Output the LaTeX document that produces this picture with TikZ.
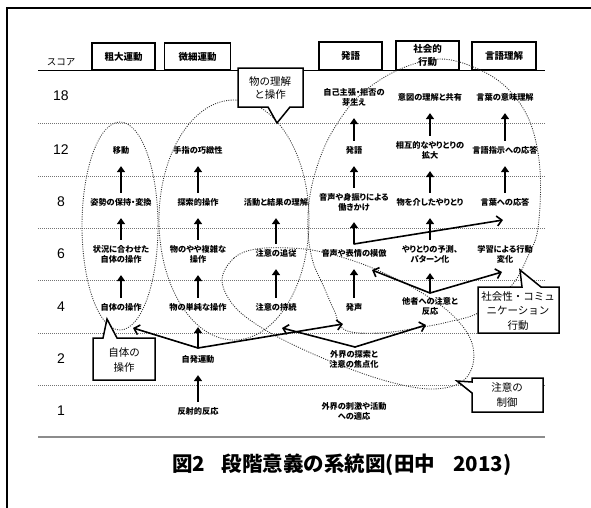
\documentclass[tikz,border=0pt]{standalone}
\usepackage{fontspec}
\usetikzlibrary{arrows.meta,calc}
\newfontfamily\jp{Noto Sans CJK JP}[RawFeature={+palt}]
\newfontfamily\jpf{Noto Sans CJK JP}
\newfontfamily\numf{Liberation Sans}
\tikzset{
 lbl/.style={font=\jp\bfseries\fontsize{8.2}{10}\selectfont, align=center, inner sep=1pt},
 hdr/.style={draw, line width=1.4pt, font=\jpf\bfseries\fontsize{9.5}{13}\selectfont, align=center, inner sep=0pt},
 cotxt/.style={font=\jpf\fontsize{10.5}{14.5}\selectfont, align=center, inner sep=0pt},
 cobox/.style={draw, fill=white, line width=1.5pt, line join=miter},
 scorelbl/.style={font=\numf\fontsize{14}{16}\selectfont, inner sep=0pt},
 ovl/.style={draw=black!80, line width=0.85pt, dash pattern=on 1pt off 1.3pt},
 sepline/.style={draw=black!55, line width=0.6pt, dash pattern=on 1pt off 1pt},
 arr/.style={line width=1.7pt, -{Triangle[length=6pt,width=8pt]}, shorten <=4pt, shorten >=11pt},
 barb/.style={line width=1.6pt, line cap=round, -{Straight Barb[length=5pt,width=10pt]}},
}
\begin{document}
\begin{tikzpicture}[x=1pt,y=-1pt]
\useasboundingbox (0,0) rectangle (591,507);
\clip (0,0) rectangle (591,507);
\fill[white] (0,0) rectangle (591,507);
\draw[line width=1.2pt] (7,520) -- (7,8) -- (600,8);

% lines
\draw[line width=0.9pt] (38,70) -- (545,70);
\foreach \yy in {123,176,228,280,333,385} \draw[sepline] (38,\yy) -- (545,\yy);
\draw[line width=2pt, black!45] (38,437) -- (545,437);

% scores
\node[font=\jpf\fontsize{9.5}{11}\selectfont, inner sep=0pt] (sc) at (61,62) {スコア};
\node[scorelbl] (s18) at (61,96) {18};
\node[scorelbl] (s12) at (61,150) {12};
\node[scorelbl] (s8) at (61,202) {8};
\node[scorelbl] (s6) at (61,254) {6};
\node[scorelbl] (s4) at (61,307) {4};
\node[scorelbl] (s2) at (61,359) {2};
\node[scorelbl] (s1) at (61,411) {1};

% headers
\node[hdr, minimum width=63pt, minimum height=27pt] (h1) at (123.5,56.5) {粗大運動};
\node[hdr, minimum width=66pt, minimum height=27pt] (h2) at (197.5,56.5) {微細運動};
\node[hdr, minimum width=63pt, minimum height=28pt] (h3) at (350.5,56) {発語};
\node[hdr, minimum width=63pt, minimum height=29pt] (h4) at (427.5,55.5) {社会的\\行動};
\node[hdr, minimum width=64pt, minimum height=28pt] (h5) at (504,56) {言語理解};

% ovals
\draw[ovl] (120,226) ellipse [x radius=38, y radius=104];
\draw[ovl] (234,220) ellipse [x radius=75, y radius=120];
\draw[ovl] plot[smooth cycle, tension=0.6] coordinates {(222,280) (234,258) (256,249) (290,248) (322,252) (365,265) (410,286) (448,311) (470,338) (473,364) (460,383) (430,389) (390,382) (345,367) (300,348) (262,328) (234,306)};
\draw[ovl] plot[smooth cycle, tension=0.6] coordinates {(440,59) (478,69) (508,89) (530,122) (540,170) (538,228) (528,256) (512,285) (480,312) (448,322) (417,328) (380,333) (345,330) (334,310) (323,285) (313,262) (308,232) (310,195) (320,158) (335,127) (360,95) (398,70)};

% labels
\node[lbl] (a18) at (354,97) {自己主張・拒否の\\芽生え};
\node[lbl] (b18) at (430,97) {意図の理解と共有};
\node[lbl] (c18) at (505,97) {言葉の意味理解};

\node[lbl] (m12) at (121,150) {移動};
\node[lbl] (f12) at (198,150) {手指の巧緻性};
\node[lbl] (a12) at (354,150) {発語};
\node[lbl] (b12) at (430,150) {相互的なやりとりの\\拡大};
\node[lbl] (c12) at (505,150) {言語指示への応答};

\node[lbl] (m8) at (121,202) {姿勢の保持・変換};
\node[lbl] (f8) at (198,202) {探索的操作};
\node[lbl] (g8) at (276,202) {活動と結果の理解};
\node[lbl] (a8) at (354,202) {音声や身振りによる\\働きかけ};
\node[lbl] (b8) at (430,202) {物を介したやりとり};
\node[lbl] (c8) at (505,202) {言葉への応答};

\node[lbl] (m6) at (121,254) {状況に合わせた\\自体の操作};
\node[lbl] (f6) at (198,254) {物のやや複雑な\\操作};
\node[lbl] (g6) at (276,253) {注意の追従};
\node[lbl] (a6) at (354,253) {音声や表情の模倣};
\node[lbl] (b6) at (430,254) {やりとりの予測、\\パターン化};
\node[lbl] (c6) at (505,254) {学習による行動\\変化};

\node[lbl] (m4) at (121,307) {自体の操作};
\node[lbl] (f4) at (198,307) {物の単純な操作};
\node[lbl] (g4) at (276,307) {注意の持続};
\node[lbl] (a4) at (354,307) {発声};
\node[lbl] (b4) at (430,306) {他者への注意と\\反応};

\node[lbl] (f2) at (198,359) {自発運動};
\node[lbl] (a2) at (354,359) {外界の探索と\\注意の焦点化};

\node[lbl] (f1) at (198,411) {反射的反応};
\node[lbl] (a1) at (354,411) {外界の刺激や活動\\への適応};

% vertical arrows
\draw[arr] (m4.north) -- (m6.south);
\draw[arr] (m6.north) -- (m8.south);
\draw[arr] (m8.north) -- (m12.south);
\draw[arr] (f1.north) -- (f2.south);
\draw[arr] (f4.north) -- (f6.south);
\draw[arr] (f6.north) -- (f8.south);
\draw[arr] (f8.north) -- (f12.south);
\draw[arr] (g4.north) -- (g6.south);
\draw[arr] (g6.north) -- (g8.south);
\draw[arr] (a4.north) -- (a6.south);
\draw[arr] (a8.north) -- (a12.south);
\draw[arr] (a12.north) -- (a18.south);
\draw[arr] (b6.north) -- (b8.south);
\draw[arr] (b8.north) -- (b12.south);
\draw[arr] (b12.north) -- (b18.south);
\draw[arr] (c8.north) -- (c12.south);
\draw[arr] (c12.north) -- (c18.south);

% junctions
\coordinate (j2) at (198,348);
\coordinate (j3) at (355,347);
\coordinate (j4) at (430,293);
\coordinate (j6) at (354,244);
\coordinate (t2l) at (133,328);
\coordinate (t2r) at (343,324);
\coordinate (t3l) at (282,328);
\coordinate (t3r) at (426,325);
\coordinate (t4l) at (372,270);
\coordinate (t4r) at (502,272);
\coordinate (t6r) at (503,220);

\draw[arr, shorten <=0pt, shorten >=15pt] (j2) -- (f4.south);
\draw[barb] (j2) -- (t2l);
\draw[barb] (j2) -- (t2r);
\draw[barb] (j3) -- (t3l);
\draw[barb] (j3) -- (t3r);
\draw[arr, shorten <=0pt, shorten >=9pt] (j4) -- (b6.south);
\draw[barb] (j4) -- (t4l);
\draw[barb] (j4) -- (t4r);
\draw[arr, shorten <=0pt, shorten >=10pt] (j6) -- (a8.south);
\draw[barb] (j6) -- (t6r);

% callouts
\draw[cobox] (238,68) -- (303,68) -- (303,107) -- (290,107) -- (277,123) -- (268,107) -- (238,107) -- cycle;
\node[cotxt, font=\jpf\fontsize{10.5}{12.5}\selectfont] (co1) at (270,88) {物の理解\\と操作};
\draw[cobox] (478,287) -- (522,287) -- (520,270) -- (541,287) -- (559,287) -- (559,333) -- (478,333) -- cycle;
\node[cotxt] (co2) at (518,311) {社会性・コミュ\\ニケーション\\行動};
\draw[cobox] (93,338) -- (103,338) -- (107,319) -- (117,338) -- (155,338) -- (155,380) -- (93,380) -- cycle;
\node[cotxt] (co3) at (124,360) {自体の\\操作};
\draw[cobox] (472,378) -- (543,378) -- (543,412) -- (472,412) -- (472,393) -- (457,381) -- (472,382) -- cycle;
\node[cotxt] (co4) at (507,395) {注意の\\制御};

% caption
\node[font=\jpf\bfseries\fontsize{20.5}{22}\selectfont, inner sep=0pt] (cap) at (342,465) {図2\hspace{0.8em}段階意義の系統図(田中\hspace{0.9em}2013)};
\end{tikzpicture}
\end{document}
